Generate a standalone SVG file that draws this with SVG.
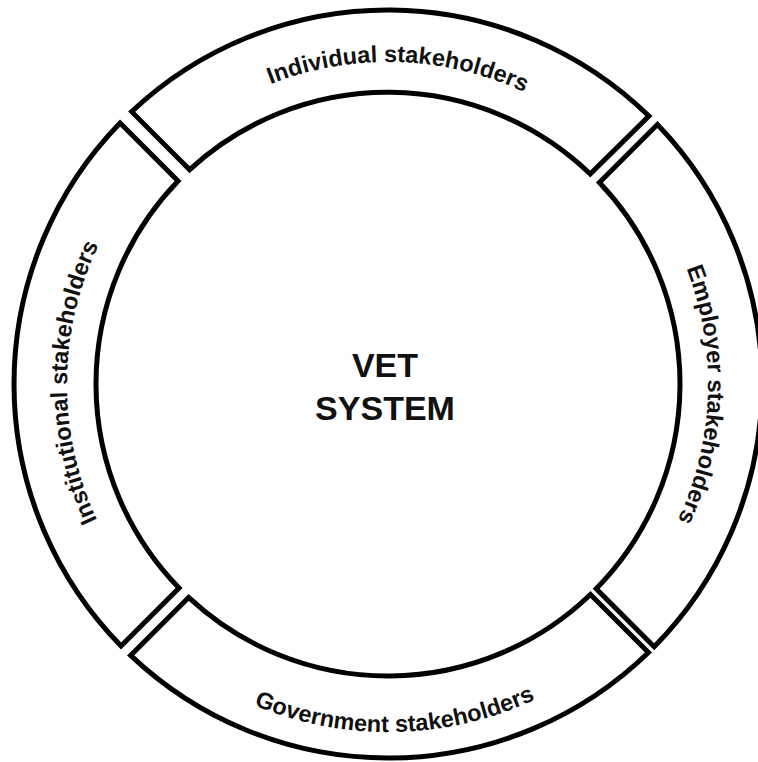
<svg xmlns="http://www.w3.org/2000/svg" width="758" height="762" viewBox="0 0 758 762">
<style>
.seg{fill:#fff;stroke:#000;stroke-width:5;stroke-linejoin:miter}
.lbl{font-family:"Liberation Sans",Arial,sans-serif;font-weight:bold;font-size:23.5px;fill:#111}
.ctr{font-family:"Liberation Sans",Arial,sans-serif;font-weight:bold;font-size:34px;fill:#111;text-anchor:middle}
</style>
<defs>
<path id="pTop" d="M114.4,214.1 A322,322 0 0 1 671.9,232.1"/>
<path id="pRight" d="M557.6,112.6 A320,320 0 0 1 538.2,666.5"/>
<path id="pBottom" d="M90.3,564.3 A348,348 0 0 0 693.0,551.7"/>
<path id="pLeft" d="M226.1,661.2 A321,321 0 0 1 228.9,105.2"/>
</defs>
<rect width="758" height="762" fill="#fff"/>
<g id="individual">
<path class="seg" d="M131.66,111.66 A374,374 0 0 1 648.93,116.06 L590.24,174.05 A292,292 0 0 0 189.68,169.68 Z"/>
<text class="lbl" text-anchor="middle"><textPath href="#pTop" startOffset="50%">Individual stakeholders</textPath></text>
</g>
<g id="employer">
<path class="seg" d="M657.41,124.59 A374,374 0 0 1 654.20,646.70 L596.22,588.72 A292,292 0 0 0 599.41,182.59 Z"/>
<text class="lbl" text-anchor="middle"><textPath href="#pRight" startOffset="50%">Employer stakeholders</textPath></text>
</g>
<g id="government">
<path class="seg" d="M648.43,652.43 A374,374 0 0 1 130.63,655.37 L188.64,597.36 A292,292 0 0 0 590.44,594.44 Z"/>
<text class="lbl" text-anchor="middle"><textPath href="#pBottom" startOffset="50%">Government stakeholders</textPath></text>
</g>
<g id="institutional">
<path class="seg" d="M121.06,645.94 A374,374 0 0 1 120.06,123.07 L178.05,181.05 A292,292 0 0 0 179.04,587.96 Z"/>
<text class="lbl" text-anchor="middle"><textPath href="#pLeft" startOffset="50%">Institutional stakeholders</textPath></text>
</g>
<g id="vet-system">
<text class="ctr" x="385" y="377">VET</text>
<text class="ctr" x="385" y="420">SYSTEM</text>
</g>
<g id="connectors"></g>
</svg>
